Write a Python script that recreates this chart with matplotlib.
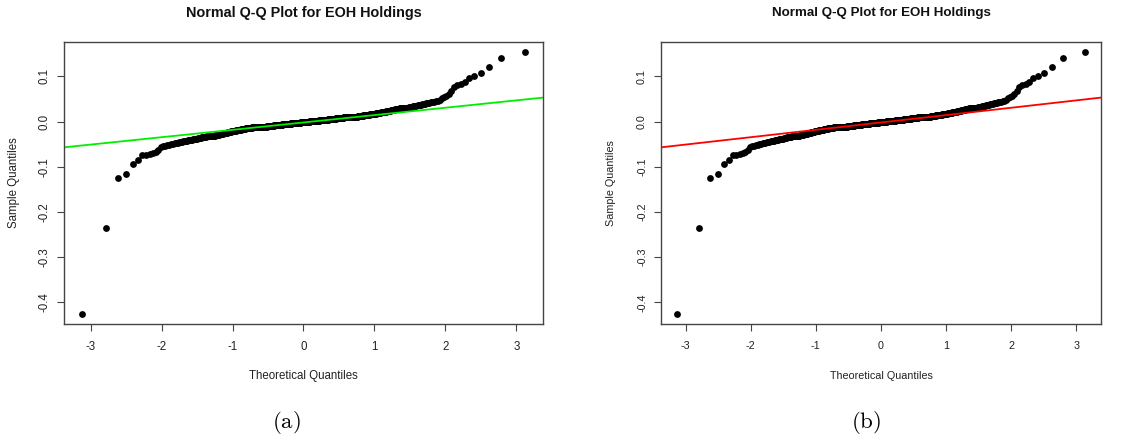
import numpy as np
import matplotlib
matplotlib.use('Agg')
import matplotlib.pyplot as plt
from statistics import NormalDist

# sorted weekly returns of EOH Holdings
# extreme low / high observations listed one by one
low_tail = [-0.425, -0.236, -0.126, -0.117, -0.093, -0.086, -0.075,
            -0.073, -0.071, -0.069, -0.067, -0.062, -0.057]
high_tail = [0.052, 0.054, 0.057, 0.062, 0.068, 0.077, 0.081, 0.084,
             0.088, 0.097, 0.101, 0.107, 0.121, 0.141, 0.153]
# dense centre of the sample: value -> number of observations
mid_values = [-0.055, -0.053, -0.051, -0.049, -0.047, -0.045, -0.043, -0.041,
              -0.039, -0.037, -0.035, -0.033, -0.031, -0.029, -0.027, -0.025,
              -0.023, -0.021, -0.019, -0.017, -0.015, -0.013, -0.011, -0.009,
              -0.007, -0.005, -0.003, -0.001, 0.001, 0.003, 0.005, 0.007,
              0.009, 0.011, 0.013, 0.015, 0.017, 0.019, 0.021, 0.023,
              0.025, 0.027, 0.029, 0.031, 0.033, 0.035, 0.037, 0.039,
              0.041, 0.043, 0.045, 0.047]
mid_counts = [1, 1, 2, 2, 3, 3, 4, 4,
              5, 4, 6, 6, 6, 6, 7, 7,
              7, 9, 11, 10, 15, 18, 21, 20,
              25, 27, 30, 29, 30, 27, 23, 21,
              21, 15, 13, 14, 12, 9, 9, 7,
              6, 6, 6, 5, 4, 4, 4, 3,
              3, 3, 2, 1]

title = 'Normal Q-Q Plot for EOH Holdings'
xlabel = 'Theoretical Quantiles'
ylabel = 'Sample Quantiles'
captions = ['(a)', '(b)']
line_colors = ['#00ee00', '#ff0000']

sample = np.sort(np.concatenate([low_tail, np.repeat(mid_values, mid_counts), high_tail]))
n = len(sample)
nd = NormalDist()
# R's ppoints for n > 10
theo = np.array([nd.inv_cdf((i - 0.5) / n) for i in range(1, n + 1)])

# qqline: through the first and third quartiles
q1, q3 = np.quantile(sample, [0.25, 0.75])
z1, z3 = nd.inv_cdf(0.25), nd.inv_cdf(0.75)
slope = (q3 - q1) / (z3 - z1)
intercept = q1 - slope * z1

plt.rcParams['font.family'] = ['Liberation Sans', 'DejaVu Sans']
plt.rcParams['mathtext.fontset'] = 'cm'

W, H = 1138, 440
fig = plt.figure(figsize=(W / 100, H / 100), dpi=100)

# pixel boxes of the two panels (left, top, right, bottom)
boxes = [(64, 42, 543, 324), (661, 42, 1101, 324)]
fscale = [1.0, 0.93]
caption_x = [286, 866]

for k, (l, t, r, b) in enumerate(boxes):
    ax = fig.add_axes([l / W, 1 - b / H, (r - l) / W, (b - t) / H])
    ax.plot(theo, sample, 'o', color='black', markersize=4.9, markeredgewidth=0)
    ax.axline((0, intercept), slope=slope, color=line_colors[k], linewidth=1.3)

    xpad = 0.04 * (theo.max() - theo.min())
    ypad = 0.04 * (sample.max() - sample.min())
    ax.set_xlim(theo.min() - xpad, theo.max() + xpad)
    ax.set_ylim(sample.min() - ypad, sample.max() + ypad)

    ax.set_xticks([-3, -2, -1, 0, 1, 2, 3])
    ax.set_xticklabels(['-3', '-2', '-1', '0', '1', '2', '3'])
    ax.set_yticks([-0.4, -0.3, -0.2, -0.1, 0.0, 0.1])
    ax.set_yticklabels(['-0.4', '-0.3', '-0.2', '-0.1', '0.0', '0.1'], rotation=90, va='center')

    fs = 8.3 * fscale[k]
    ax.tick_params(direction='out', length=5, width=0.8, color='#444444',
                   labelsize=fs, labelcolor='#222222')
    ax.tick_params(axis='x', pad=7)
    ax.tick_params(axis='y', pad=5)
    for sp in ax.spines.values():
        sp.set_color('#444444')
        sp.set_linewidth(1.0)

    cx = (l + r) / 2
    fig.text(cx / W, 1 - 13 / H, title, ha='center', va='center',
             fontsize=10.4 * fscale[k], fontweight='bold', color='#111111')
    fig.text(cx / W, 1 - 376 / H, xlabel, ha='center', va='center',
             fontsize=fs, color='#222222')
    fig.text((l - 50) / W, 1 - (t + b) / 2 / H, ylabel, ha='center', va='center',
             rotation=90, fontsize=fs, color='#222222')
    fig.text(caption_x[k] / W, 1 - 422 / H, r'$\mathrm{' + captions[k] + '}$', ha='center',
             va='center', fontsize=16.5, color='black')

fig.savefig('out.png', dpi=100, facecolor='white')
